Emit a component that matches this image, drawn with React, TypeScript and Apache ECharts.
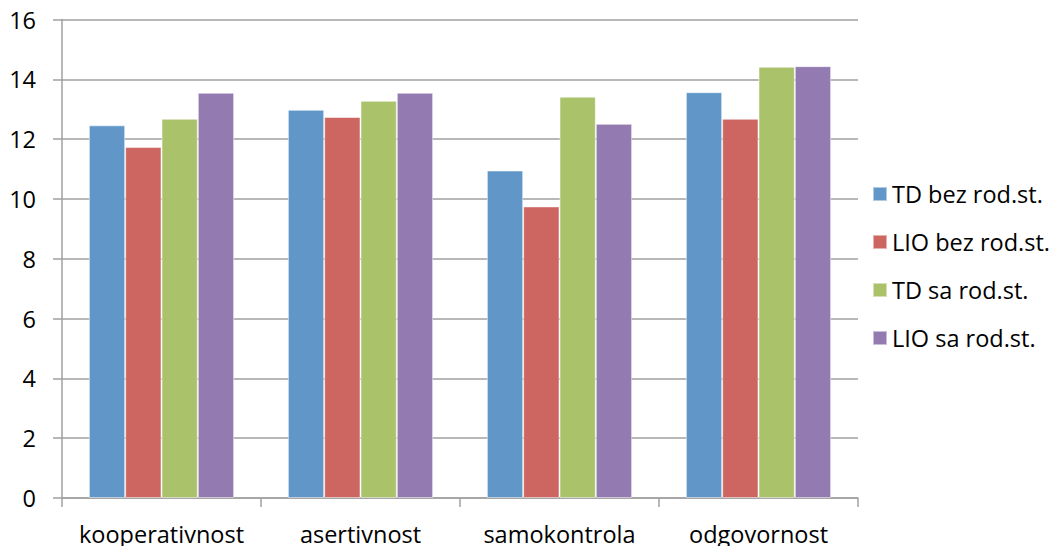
import React, { useEffect, useRef } from "react";
import * as echarts from "echarts";

const categories = ["kooperativnost", "asertivnost", "samokontrola", "odgovornost"];
const seriesNames = ["TD bez rod.st.", "LIO bez rod.st.", "TD sa rod.st.", "LIO sa rod.st."];
const tdBez = [12.46, 12.98, 10.95, 13.57];
const lioBez = [11.74, 12.74, 9.75, 12.68];
const tdSa = [12.68, 13.28, 13.42, 14.42];
const lioSa = [13.55, 13.55, 12.51, 14.44];
const colors = ["#6096C8", "#CD6660", "#AAC36B", "#937BB1"];

const FONT = "Open Sans";
const FONT_SIZE = 23.5;

export default function App() {
  const ref = useRef<HTMLDivElement>(null);

  useEffect(() => {
    if (!ref.current) return;
    const chart = echarts.init(ref.current, undefined, { renderer: "svg" });
    const values = [tdBez, lioBez, tdSa, lioSa];
    chart.setOption({
      animation: false,
      backgroundColor: "#ffffff",
      grid: { left: 62, right: 194, top: 19.5, bottom: 47, containLabel: false },
      legend: {
        orient: "vertical",
        left: 872,
        top: 182,
        padding: 0,
        itemWidth: 14,
        itemHeight: 14,
        itemGap: 24,
        icon: "rect",
        data: seriesNames,
        textStyle: { fontFamily: FONT, fontSize: FONT_SIZE, color: "#000", lineHeight: 24 },
      },
      xAxis: {
        type: "category",
        data: categories,
        axisLine: { lineStyle: { color: "#a0a0a0", width: 1.5 } },
        axisTick: { show: true, length: 9, lineStyle: { color: "#a0a0a0", width: 1.5 } },
        axisLabel: { interval: 0, fontFamily: FONT, fontSize: FONT_SIZE, color: "#000", margin: 24 },
      },
      yAxis: {
        type: "value",
        min: 0,
        max: 16,
        interval: 2,
        axisLine: { show: true, lineStyle: { color: "#a0a0a0", width: 1.5 } },
        axisTick: { show: true, length: 9, lineStyle: { color: "#a0a0a0", width: 1.5 } },
        axisLabel: { fontFamily: FONT, fontSize: FONT_SIZE, color: "#000", margin: 26 },
        splitLine: { lineStyle: { color: "#a0a0a0", width: 1.5 } },
      },
      series: seriesNames.map((name, i) => ({
        name,
        type: "bar",
        data: values[i],
        barGap: "0%",
        barCategoryGap: "27%",
        itemStyle: { color: colors[i], borderColor: "rgba(255,255,255,0.5)", borderWidth: 1 },
      })),
    });
    return () => chart.dispose();
  }, []);

  return (
    <div
      ref={ref}
      style={{ position: "fixed", left: 0, top: 0, width: 1052, height: 546 }}
    />
  );
}
